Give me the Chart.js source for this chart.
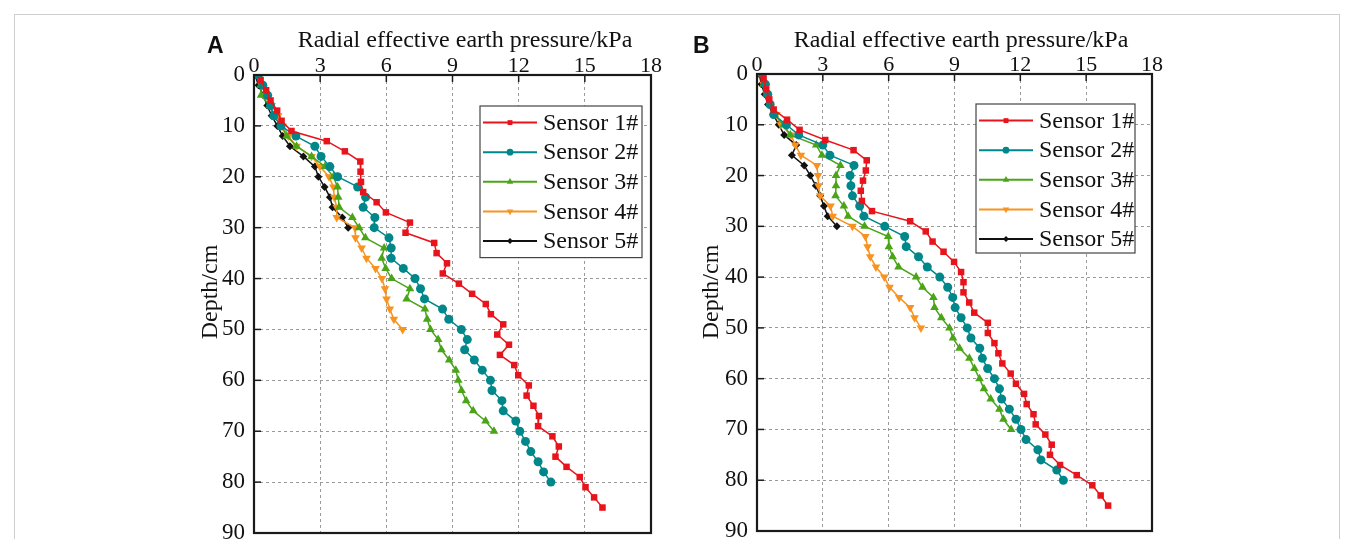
<!DOCTYPE html>
<html><head><meta charset="utf-8">
<script src="https://cdn.jsdelivr.net/npm/chart.js@4.4.1/dist/chart.umd.min.js"></script>
<style>
html,body{margin:0;padding:0;background:#fff;overflow:hidden;width:1355px;height:539px;}
#frame{position:absolute;left:14px;top:14px;width:1326px;height:600px;border:1px solid #cfcfcf;box-sizing:border-box;}
canvas{position:absolute;top:0;}
#cA{left:0;} #cB{left:677px;}
</style></head>
<body>
<div id="frame"></div>
<canvas id="cA" width="677" height="560"></canvas>
<canvas id="cB" width="678" height="560"></canvas>
<script>
// ---------- data (depth in cm, pressure in kPa) ----------
const depthOdd = [1,3,5,7,9,11,13,15,17,19,21,23,25,27,29,31,33,35,37,39,41,43,45,47,49,51,53,55,57,59,61,63,65,67,69,71,73,75,77,79,81,83,85];
const depthEven = [0,2,4,6,8,10,12,14,16,18,20,22,24,26,28,30,32,34,36,38,40,42,44,46,48,50,52,54,56,58,60,62,64,66,68,70,72,74,76,78,80];
const seriesNames = ['Sensor 1#','Sensor 2#','Sensor 3#','Sensor 4#','Sensor 5#'];
const xTicks = [0,3,6,9,12,15,18];
const yTicks = [0,10,20,30,40,50,60,70,80,90];

// Panel A
const a1 = [0.3,0.55,0.75,1.05,1.25,1.7,3.3,4.12,4.82,4.83,4.85,4.95,5.56,5.98,7.07,6.87,8.17,8.28,8.75,8.56,9.29,9.89,10.51,10.74,11.3,11.03,11.56,11.15,11.8,11.98,12.46,12.36,12.67,12.92,12.88,13.53,13.82,13.67,14.17,14.77,15.03,15.42,15.8];
const a2 = [0.2,0.4,0.62,0.75,0.9,1.22,1.9,2.76,3.04,3.44,3.79,4.7,5.06,4.95,5.48,5.45,6.12,6.22,6.22,6.77,7.3,7.55,7.73,8.55,8.83,9.4,9.67,9.55,9.99,10.35,10.72,10.79,11.24,11.3,11.87,12.05,12.31,12.55,12.88,13.13,13.46];
const a3 = [0.2,0.3,0.32,0.72,0.88,1.25,1.48,1.93,2.61,3.22,3.6,3.79,3.82,3.86,4.46,4.77,5.05,5.9,5.79,5.97,6.24,7.07,6.92,7.75,7.85,8.0,8.35,8.5,8.85,9.15,9.26,9.41,9.62,9.94,10.5,10.88];
const a4 = [0.2,0.35,0.55,0.8,1.1,1.3,1.55,1.93,2.61,2.99,3.4,3.6,3.64,3.75,3.75,4.58,4.6,4.88,5.1,5.51,5.8,5.94,6.01,6.16,6.34,6.74];
const a5 = [0.05,0.2,0.42,0.6,0.8,1.06,1.3,1.63,2.24,2.76,2.92,3.2,3.44,3.56,4.0,4.27];

// Panel B
const b1 = [0.3,0.42,0.56,0.76,1.37,1.94,3.11,4.4,5.0,4.96,4.83,4.73,4.78,5.24,6.98,7.69,8.0,8.5,8.98,9.3,9.41,9.41,9.67,9.9,10.52,10.52,10.82,11.0,11.18,11.56,11.8,12.17,12.29,12.6,12.7,13.14,13.43,13.35,13.81,14.57,15.28,15.66,16.0];
const b2 = [0.25,0.38,0.49,0.6,0.76,1.34,1.9,3.0,3.32,4.42,4.24,4.28,4.35,4.68,4.87,5.82,6.73,6.8,7.36,7.76,8.33,8.69,8.92,9.03,9.3,9.58,9.75,10.15,10.27,10.51,10.82,11.05,11.15,11.5,11.8,12.03,12.26,12.8,12.94,13.66,13.96];
const b3 = [0.2,0.3,0.45,0.6,0.8,1.21,1.52,2.7,2.96,3.8,3.6,3.6,3.58,3.96,4.15,4.9,5.98,6.01,6.18,6.45,7.25,7.54,8.04,8.09,8.4,8.77,8.93,9.23,9.68,9.91,10.14,10.34,10.65,11.05,11.23,11.58];
const b4 = [0.2,0.3,0.45,0.6,0.88,1.09,1.55,1.75,2.0,2.73,2.78,2.8,2.88,3.35,3.45,4.35,4.94,5.04,5.16,5.42,5.8,6.04,6.48,6.98,7.18,7.47];
const b5 = [0.1,0.2,0.35,0.5,0.75,0.99,1.24,1.79,1.59,2.15,2.43,2.68,2.88,3.05,3.22,3.64];

// ---------- styles ----------
const colors = ['#e8141c','#00878a','#4aa417','#f7931e','#111111'];
const pStyles = ['rect','circle','triangle','triangle','rectRot'];
const pRot = [0,0,0,180,0];
const pRad = [4.6,4.5,5,5,4];
const SERIF = '"Liberation Serif", "Times New Roman", serif';

function pts(xs, ds){ return xs.map((v,i)=>({x:v, y:ds[i]})); }

function drawMarker(ctx, style, rot, r, x, y){
  ctx.save();
  ctx.translate(x,y);
  ctx.rotate(rot*Math.PI/180);
  ctx.beginPath();
  if(style==='rect'){ const s=r*Math.SQRT1_2; ctx.rect(-s,-s,2*s,2*s); }
  else if(style==='circle'){ ctx.arc(0,0,r,0,Math.PI*2); }
  else if(style==='triangle'){ ctx.moveTo(0,-r); ctx.lineTo(r*0.866,r*0.5); ctx.lineTo(-r*0.866,r*0.5); ctx.closePath(); }
  else if(style==='rectRot'){ ctx.moveTo(0,-r); ctx.lineTo(r,0); ctx.lineTo(0,r); ctx.lineTo(-r,0); ctx.closePath(); }
  ctx.fill();
  ctx.restore();
}

const decoPlugin = {
  id:'deco',
  afterDraw(chart, args, o){
    const {ctx, chartArea:a, scales:{x,y}} = chart;
    ctx.save();
    // legend
    const bx = a.right - o.legRight, by = a.top + o.legTop;
    ctx.fillStyle='#fff';
    ctx.fillRect(bx,by,o.legW,o.legH);
    ctx.strokeStyle='#444'; ctx.lineWidth=1.2;
    ctx.strokeRect(bx,by,o.legW,o.legH);
    chart.data.datasets.forEach((ds,i)=>{
      const cy = by + 16.6 + i*29.6;
      ctx.strokeStyle = ds.borderColor; ctx.lineWidth = 2;
      ctx.beginPath(); ctx.moveTo(bx+3,cy); ctx.lineTo(bx+57,cy); ctx.stroke();
      ctx.fillStyle = ds.borderColor;
      drawMarker(ctx, pStyles[i], pRot[i], pRad[i]*0.75, bx+30, cy);
      ctx.fillStyle='#111';
      ctx.font = '24px '+SERIF;
      ctx.textAlign='left'; ctx.textBaseline='middle';
      ctx.fillText(ds.label, bx+63, cy+1);
    });
    // inward ticks
    ctx.strokeStyle='#1a1a1a'; ctx.lineWidth=1.5;
    x.ticks.forEach(t=>{ const px=x.getPixelForValue(t.value); ctx.beginPath(); ctx.moveTo(px,a.top); ctx.lineTo(px,a.top+7); ctx.stroke(); });
    y.ticks.forEach(t=>{ const py=y.getPixelForValue(t.value); ctx.beginPath(); ctx.moveTo(a.left,py); ctx.lineTo(a.left+7,py); ctx.stroke(); });
    // frame
    ctx.lineWidth=2.2; ctx.strokeStyle='#1a1a1a';
    ctx.strokeRect(a.left, a.top, a.right-a.left, a.bottom-a.top);
    // axis titles
    ctx.fillStyle='#111';
    ctx.font='24px '+SERIF; ctx.textAlign='center'; ctx.textBaseline='alphabetic';
    ctx.fillText(o.xTitle, a.left + o.xTitleDx, 47);
    ctx.save();
    ctx.translate(a.left + o.yTitleDx, o.yTitleY);
    ctx.rotate(-Math.PI/2);
    ctx.textBaseline='middle';
    ctx.fillText(o.yTitle, 0, 0);
    ctx.restore();
    // panel letter
    ctx.font='bold 23px "Liberation Sans", Arial, sans-serif';
    ctx.textAlign='left'; ctx.textBaseline='alphabetic';
    ctx.fillText(o.letter, o.letterX, 53);
    ctx.restore();
  }
};

function makeChart(id, series, geo){
  const sets = series.map((xs,i)=>({
    label: seriesNames[i],
    data: pts(xs, i===0 ? depthOdd : depthEven),
    showLine: true,
    borderColor: colors[i],
    backgroundColor: colors[i],
    borderWidth: 1.5,
    pointStyle: pStyles[i],
    pointRotation: pRot[i],
    pointRadius: pRad[i],
    pointBorderWidth: 0,
    pointBackgroundColor: colors[i],
    tension: 0
  }));
  return new Chart(document.getElementById(id), {
    type:'scatter',
    data:{datasets:sets},
    plugins:[decoPlugin],
    options:{
      responsive:false, animation:false, devicePixelRatio:1,
      layout:{padding:{left:0, top:0, right:geo.padR, bottom:geo.padB}},
      plugins:{legend:{display:false}, tooltip:{enabled:false},
        deco:{legRight:geo.legRight, legTop:geo.legTop, legW:geo.legW, legH:geo.legH,
              xTitle:'Radial effective earth pressure/kPa', xTitleDx:geo.xTitleDx,
              yTitle:'Depth/cm', yTitleDx:geo.yTitleDx, yTitleY:geo.yTitleY,
              letter:geo.letter, letterX:geo.letterX}},
      scales:{
        x:{type:'linear', position:'top', min:0, max:18,
           afterBuildTicks(s){ s.ticks = xTicks.map(v=>({value:v})); },
           afterFit(s){ s.height = geo.topH; },
           ticks:{font:{family:SERIF,size:22}, color:'#111', padding:-4, maxRotation:0},
           grid:{color:'#9a9a9a', lineWidth:1, drawTicks:false},
           border:{display:false, dash:[3,3]}},
        y:{type:'linear', reverse:true, min:0, max:90,
           afterBuildTicks(s){ s.ticks = yTicks.map(v=>({value:v})); },
           afterFit(s){ s.width = geo.leftW; },
           ticks:{font:{family:SERIF,size:23}, color:'#111', padding:9},
           grid:{color:'#9a9a9a', lineWidth:1, drawTicks:false},
           border:{display:false, dash:[3,3]}}
      }
    }
  });
}

makeChart('cA', [a1,a2,a3,a4,a5], {padR:26, padB:27, topH:75, leftW:254,
  legRight:171, legTop:31, legW:162, legH:151.6, xTitleDx:211, yTitleDx:-43, yTitleY:292, letter:'A', letterX:207});
makeChart('cB', [b1,b2,b3,b4,b5], {padR:203, padB:29, topH:74, leftW:80,
  legRight:176, legTop:30, legW:159, legH:149, xTitleDx:204, yTitleDx:-45, yTitleY:292, letter:'B', letterX:16});
</script>
</body></html>
